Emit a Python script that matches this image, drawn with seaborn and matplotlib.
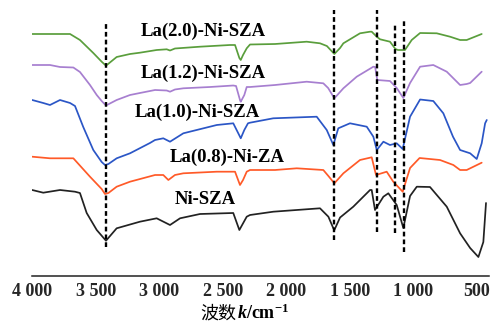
import matplotlib
matplotlib.use("Agg")
import matplotlib.pyplot as plt
import seaborn as sns
import pandas as pd
from matplotlib.ticker import FixedLocator, FuncFormatter

# ---------------- data (wavenumber, offset transmittance in a.u.) ----------------
samples = ["La(2.0)-Ni-SZA", "La(1.2)-Ni-SZA", "La(1.0)-Ni-SZA", "La(0.8)-Ni-ZA", "Ni-SZA"]
colors = ["#5a9e3c", "#a77fd0", "#2b56c6", "#ff5a28", "#222222"]

green_wn = [4000, 3702, 3689, 3624, 3519, 3453, 3419, 3335, 3230, 3152, 3020, 2941, 2915, 2876,
            2679, 2443, 2403, 2369, 2358, 2340, 2311, 2285, 2088, 1839, 1734, 1680, 1621, 1576,
            1550, 1419, 1340, 1327, 1287, 1261, 1183, 1140, 1120, 1065, 1012, 946, 815, 710,
            631, 579, 461]
green_t = [242, 242, 241, 236, 223, 214.3, 210.3, 219, 222, 223.3, 226, 226.7, 225.5, 227.5,
           229.3, 231, 231, 218, 216, 221, 227.7, 231.5, 232, 234.3, 232.7, 230, 222, 228,
           232.7, 242.7, 244.3, 244.3, 239.3, 236.7, 234.3, 227, 226, 226, 236, 243, 242.7, 239.3,
           236, 236, 242]

purple_wn = [4000, 3860, 3781, 3676, 3624, 3545, 3492, 3453, 3419, 3335, 3230, 3152, 3033, 2941,
             2915, 2876, 2810, 2600, 2417, 2395, 2364, 2358, 2330, 2311, 2285, 2088, 1839, 1708,
             1670, 1621, 1550, 1445, 1314, 1300, 1283, 1183, 1130, 1078, 1025, 946, 842, 736,
             631, 579, 552, 461]
purple_t = [211, 211, 209, 208.5, 204, 191, 181, 175, 170.5, 176, 181, 183, 186, 185.5,
            184.3, 186.5, 187.7, 189, 190.5, 190, 176, 174.3, 181, 189, 189, 191, 194.3, 192.7,
            188, 177.7, 187.7, 199.3, 209.3, 209, 196, 195, 188, 178, 193, 209.3, 211, 204.3,
            191, 192, 193, 204.3]

blue_wn = [4000, 3913, 3860, 3781, 3702, 3663, 3598, 3519, 3453, 3427, 3400, 3335, 3230, 3073,
           3033, 2968, 2915, 2810, 2547, 2417, 2364, 2358, 2330, 2301, 2285, 2102, 1760, 1681,
           1629, 1590, 1498, 1366, 1314, 1287, 1235, 1183, 1130, 1083, 1025, 946, 842, 763,
           687, 631, 552, 500, 461, 434, 421]
blue_t = [176, 173, 171, 176, 173, 170, 149, 126, 114, 111, 112, 117.7, 122.7, 133,
          136, 137.7, 134.3, 142.7, 151, 152.7, 139.3, 137.7, 146, 152.7, 153.3, 157.7, 159.3, 146,
          131, 147.7, 152.7, 149.3, 139.3, 126, 134.3, 131, 132.7, 127, 159.3, 176.5, 175, 162.7,
          139.3, 126, 122.7, 117, 132.7, 152.7, 156]

red_wn = [4000, 3860, 3676, 3545, 3453, 3427, 3400, 3335, 3230, 3033, 2968, 2928, 2876, 2810,
          2547, 2403, 2364, 2340, 2311, 2285, 2088, 1917, 1708, 1668, 1621, 1550, 1419, 1327,
          1293, 1209, 1157, 1083, 1025, 950, 789, 684, 631, 579, 461]
red_t = [119.3, 117.7, 117.7, 99.3, 87, 82, 83, 89.3, 94.3, 101, 101, 96, 101, 102.7,
         104.3, 104.3, 91, 96, 104.3, 106, 106, 107.7, 106, 100, 92.7, 102.7, 116, 118.7,
         101, 104.3, 94.3, 84.3, 108, 118, 116, 111, 106, 106, 113.3]

black_wn = [4000, 3913, 3781, 3663, 3624, 3571, 3492, 3419, 3335, 3152, 3020, 2915, 2836, 2679,
            2417, 2369, 2311, 2285, 2102, 1734, 1668, 1629, 1621, 1576, 1472, 1366, 1340, 1327,
            1301, 1235, 1196, 1130, 1078, 1025, 972, 868, 736, 631, 552, 487, 448, 427]
black_t = [86, 83.3, 86, 84.3, 83, 63, 46, 35.3, 47.7, 54.3, 57.7, 51, 57.7, 62,
           63, 46, 59.3, 61, 64.3, 67.7, 59.3, 47.7, 46, 58.5, 69.3, 82.7, 86, 86,
           66, 79.3, 82.7, 71, 48, 80, 89.3, 89, 69.3, 42.7, 28, 19, 34, 73]

# dashed reference lines: position and vertical extent
ref_wn = [3420, 1625, 1285, 1140, 1070]
ref_top = [252.7, 266, 266, 253.3, 255.3]
ref_bottom = [29.3, 36, 44.3, 42.7, 24.3]

# sample label anchors (wavenumber, height)
label_wn = [2655, 2650, 2702, 2467, 2639]
label_t = [245, 203, 164, 119, 77]

xticks = [4000, 3500, 3000, 2500, 2000, 1500, 1000, 500]

# ---------------- figure ----------------
sns.set_style("white")
plt.rcParams["font.family"] = ["Liberation Serif", "Noto Sans CJK SC"]
plt.rcParams["mathtext.fontset"] = "custom"
plt.rcParams["mathtext.it"] = "Liberation Serif:italic:bold"
plt.rcParams["mathtext.default"] = "regular"

frames = []
for name, wn, t in zip(samples,
                       [green_wn, purple_wn, blue_wn, red_wn, black_wn],
                       [green_t, purple_t, blue_t, red_t, black_t]):
    frames.append(pd.DataFrame({"wn": wn, "t": t, "sample": name}))
df = pd.concat(frames, ignore_index=True)

fig = plt.figure(figsize=(4.94, 3.25), dpi=100)
ax = fig.add_axes([32.2 / 494, 49 / 325, (488.8 - 32.2) / 494, 276 / 325])

sns.lineplot(data=df, x="wn", y="t", hue="sample", hue_order=samples,
             palette=dict(zip(samples, colors)), estimator=None, sort=True,
             linewidth=1.25, legend=False, ax=ax)

for w, top, bot in zip(ref_wn, ref_top, ref_bottom):
    ax.plot([w, w], [bot, top], color="black", linewidth=1.7,
            linestyle=(0, (2.0, 1.3)), zorder=5)

for name, lw_, lt in zip(samples, label_wn, label_t):
    ax.text(lw_, lt, name, ha="center", va="center", fontsize=13.5,
            fontweight="bold", family="Liberation Serif", color="black")

ax.set_xlim(4000, 405)
ax.set_ylim(0, 276)
ax.set_yticks([])
ax.set_ylabel("")
ax.set_xlabel("")
for s in ["left", "right", "top"]:
    ax.spines[s].set_visible(False)
ax.spines["bottom"].set_linewidth(1.1)
ax.spines["bottom"].set_color("#222222")

ax.xaxis.set_major_locator(FixedLocator(xticks))
ax.xaxis.set_major_formatter(FuncFormatter(
    lambda v, p: (f"{int(v) // 1000} {int(v) % 1000:03d}" if v >= 1000 else f"{int(v)}")))
ax.tick_params(axis="x", direction="in", length=2.5, width=1.0, color="#222222",
               pad=5, labelsize=13)
for lab in ax.get_xticklabels():
    lab.set_fontweight("bold")
    lab.set_family("Liberation Serif")

# x-axis label: 波数 k/cm^-1
xs = 236 / 494
yb = (325 - 319) / 325
fig.text(xs, yb, "波数", ha="right", va="baseline", fontsize=13,
         family=["Noto Sans CJK SC"], color="black")
fig.text(xs + 0.003, yb, r"$\it{k}$/cm$^{-1}$", ha="left", va="baseline", fontsize=13,
         family="Liberation Serif", fontweight="bold", color="black")

fig.savefig("out.png", dpi=100, facecolor="white")
